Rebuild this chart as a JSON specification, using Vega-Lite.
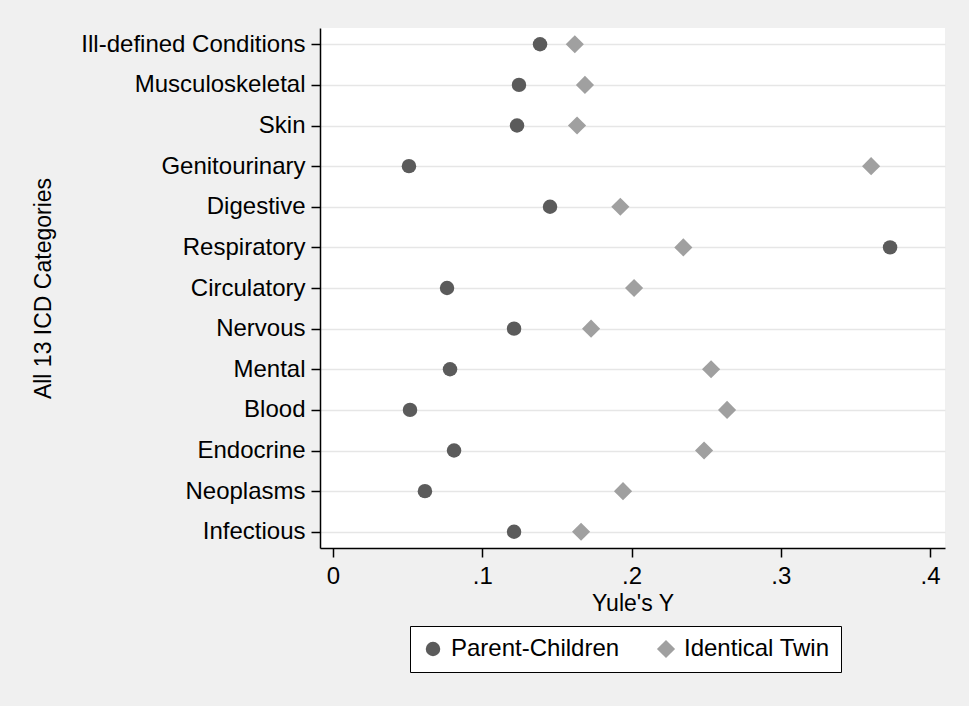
{
  "$schema": "https://vega.github.io/schema/vega-lite/v6.json",
  "width": 625,
  "height": 520,
  "autosize": {"type": "none"},
  "padding": {"left": 320, "top": 28, "right": 24, "bottom": 158},
  "background": "#f0f0f0",
  "config": {
    "view": {"fill": "white", "stroke": null},
    "font": "Liberation Sans"
  },
  "data": {
    "values": [
      {"category": "Ill-defined Conditions", "group": "Parent-Children", "value": 0.1387},
      {"category": "Ill-defined Conditions", "group": "Identical Twin", "value": 0.162},
      {"category": "Musculoskeletal", "group": "Parent-Children", "value": 0.1246},
      {"category": "Musculoskeletal", "group": "Identical Twin", "value": 0.1688},
      {"category": "Skin", "group": "Parent-Children", "value": 0.1233},
      {"category": "Skin", "group": "Identical Twin", "value": 0.1635},
      {"category": "Genitourinary", "group": "Parent-Children", "value": 0.0509},
      {"category": "Genitourinary", "group": "Identical Twin", "value": 0.3605},
      {"category": "Digestive", "group": "Parent-Children", "value": 0.1454},
      {"category": "Digestive", "group": "Identical Twin", "value": 0.1925},
      {"category": "Respiratory", "group": "Parent-Children", "value": 0.3732},
      {"category": "Respiratory", "group": "Identical Twin", "value": 0.2347},
      {"category": "Circulatory", "group": "Parent-Children", "value": 0.0764},
      {"category": "Circulatory", "group": "Identical Twin", "value": 0.2017},
      {"category": "Nervous", "group": "Parent-Children", "value": 0.1213},
      {"category": "Nervous", "group": "Identical Twin", "value": 0.1729},
      {"category": "Mental", "group": "Parent-Children", "value": 0.0784},
      {"category": "Mental", "group": "Identical Twin", "value": 0.2533},
      {"category": "Blood", "group": "Parent-Children", "value": 0.0516},
      {"category": "Blood", "group": "Identical Twin", "value": 0.264},
      {"category": "Endocrine", "group": "Parent-Children", "value": 0.0811},
      {"category": "Endocrine", "group": "Identical Twin", "value": 0.2486},
      {"category": "Neoplasms", "group": "Parent-Children", "value": 0.0616},
      {"category": "Neoplasms", "group": "Identical Twin", "value": 0.1943},
      {"category": "Infectious", "group": "Parent-Children", "value": 0.1213},
      {"category": "Infectious", "group": "Identical Twin", "value": 0.1662}
    ]
  },
  "mark": {"type": "point", "filled": true, "opacity": 1, "strokeWidth": 0},
  "encoding": {
    "y": {
      "field": "category",
      "type": "nominal",
      "sort": ["Ill-defined Conditions", "Musculoskeletal", "Skin", "Genitourinary", "Digestive", "Respiratory", "Circulatory", "Nervous", "Mental", "Blood", "Endocrine", "Neoplasms", "Infectious"],
      "scale": {"type": "point", "padding": 0.4},
      "axis": {
        "title": "All 13 ICD Categories",
        "titleFontSize": 23,
        "titleFontWeight": "normal",
        "titleColor": "black",
        "titlePadding": 65,
        "labelFontSize": 24,
        "labelLimit": 400,
        "labelColor": "black",
        "labelPadding": 6,
        "tickSize": 9,
        "tickColor": "black",
        "tickWidth": 1.5,
        "domainColor": "black",
        "domainWidth": 1.5,
        "grid": true,
        "gridColor": "#e6e6e6",
        "gridWidth": 1.5
      }
    },
    "x": {
      "field": "value",
      "type": "quantitative",
      "scale": {"domain": [-0.0087, 0.41], "nice": false, "zero": false},
      "axis": {
        "title": "Yule's Y",
        "values": [0, 0.1, 0.2, 0.3, 0.4],
        "labelExpr": "datum.value == 0 ? '0' : replace(format(datum.value, '.1f'), '0.', '.')",
        "titleFontSize": 23,
        "titleFontWeight": "normal",
        "titleColor": "black",
        "titlePadding": 4,
        "labelFontSize": 24,
        "labelColor": "black",
        "labelPadding": 7,
        "tickSize": 9,
        "tickColor": "black",
        "tickWidth": 1.5,
        "domainColor": "black",
        "domainWidth": 1.5,
        "grid": false
      }
    },
    "color": {
      "field": "group",
      "type": "nominal",
      "scale": {"domain": ["Parent-Children", "Identical Twin"], "range": ["#5b5b5b", "#a0a0a0"]},
      "legend": {
        "title": null,
        "orient": "none",
        "direction": "horizontal",
        "legendX": 90,
        "legendY": 598,
        "fillColor": "white",
        "strokeColor": "black",
        "padding": 11,
        "labelFontSize": 24,
        "labelLimit": 300,
        "labelColor": "black",
        "columnPadding": 34,
        "symbolSize": 220,
        "labelOffset": 6
      }
    },
    "shape": {
      "field": "group",
      "type": "nominal",
      "scale": {"domain": ["Parent-Children", "Identical Twin"], "range": ["circle", "diamond"]}
    },
    "size": {
      "field": "group",
      "type": "nominal",
      "scale": {"domain": ["Parent-Children", "Identical Twin"], "range": [210, 330]},
      "legend": null
    }
  }
}
